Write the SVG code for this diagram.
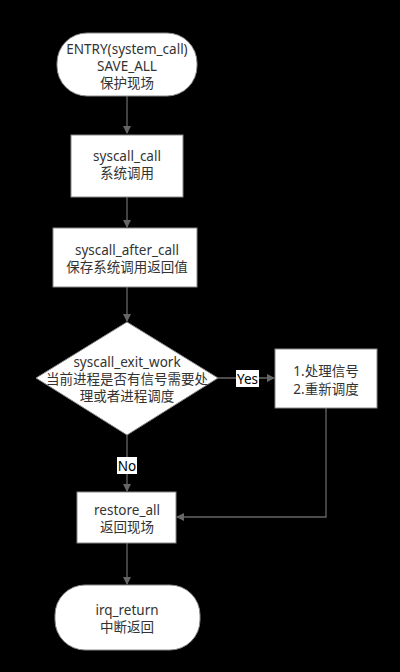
<svg xmlns="http://www.w3.org/2000/svg" width="400" height="672" viewBox="0 0 400 672">
<defs>
<style>
.n{fill:#fff;stroke:#888;stroke-width:1}
.t{font-family:"Noto Sans","Noto Sans CJK SC",sans-serif;font-size:13.5px;fill:#333;text-anchor:middle;dominant-baseline:central}
.c{fill:none;stroke:#666;stroke-width:1.3}
.lb{fill:#fff}
</style>
<marker id="a" markerWidth="8" markerHeight="8" refX="7" refY="4" orient="auto" markerUnits="userSpaceOnUse">
<path d="M0,0 L8,4 L0,8 Z" fill="#666"/>
</marker>
</defs>
<rect width="400" height="672" fill="#000"/>
<g id="connectors">
<path class="c" d="M127,96 V133" marker-end="url(#a)"/>
<path class="c" d="M127,197 V227" marker-end="url(#a)"/>
<path class="c" d="M127,287 V321" marker-end="url(#a)"/>
<path class="c" d="M218,378 H274" marker-end="url(#a)"/>
<path class="c" d="M127,435 V491" marker-end="url(#a)"/>
<path class="c" d="M326,408 V517 H177" marker-end="url(#a)"/>
<path class="c" d="M127,543 V584" marker-end="url(#a)"/>
<rect class="lb" x="236" y="370" width="23" height="17"/>
<text class="t" x="247.5" y="379" style="fill:#000">Yes</text>
<rect class="lb" x="117" y="457" width="20" height="17"/>
<text class="t" x="127" y="466" style="fill:#000">No</text>
</g>
<g id="entry">
<rect class="n" x="57" y="33" width="140" height="63" rx="30"/>
<text class="t" x="127" y="49">ENTRY(system_call)</text>
<text class="t" x="127" y="66">SAVE_ALL</text>
<text class="t" x="127" y="83">保护现场</text>
</g>
<g id="syscall_call">
<rect class="n" x="71" y="135" width="112" height="62"/>
<text class="t" x="127" y="156">syscall_call</text>
<text class="t" x="127" y="173">系统调用</text>
</g>
<g id="syscall_after_call">
<rect class="n" x="53" y="228" width="144" height="59"/>
<text class="t" x="127" y="250">syscall_after_call</text>
<text class="t" x="127" y="267">保存系统调用返回值</text>
</g>
<g id="syscall_exit_work">
<polygon class="n" points="127,322 218,378 127,435 36,378"/>
<text class="t" x="127" y="362">syscall_exit_work</text>
<text class="t" x="127" y="379">当前进程是否有信号需要处</text>
<text class="t" x="127" y="396">理或者进程调度</text>
</g>
<g id="handle">
<rect class="n" x="275" y="349" width="102" height="59"/>
<text class="t" x="326" y="371">1.处理信号</text>
<text class="t" x="326" y="389">2.重新调度</text>
</g>
<g id="restore_all">
<rect class="n" x="77" y="492" width="99" height="51"/>
<text class="t" x="127" y="510">restore_all</text>
<text class="t" x="127" y="527">返回现场</text>
</g>
<g id="irq_return">
<rect class="n" x="55" y="585" width="145" height="65" rx="30"/>
<text class="t" x="127" y="610">irq_return</text>
<text class="t" x="127" y="627">中断返回</text>
</g>
</svg>
